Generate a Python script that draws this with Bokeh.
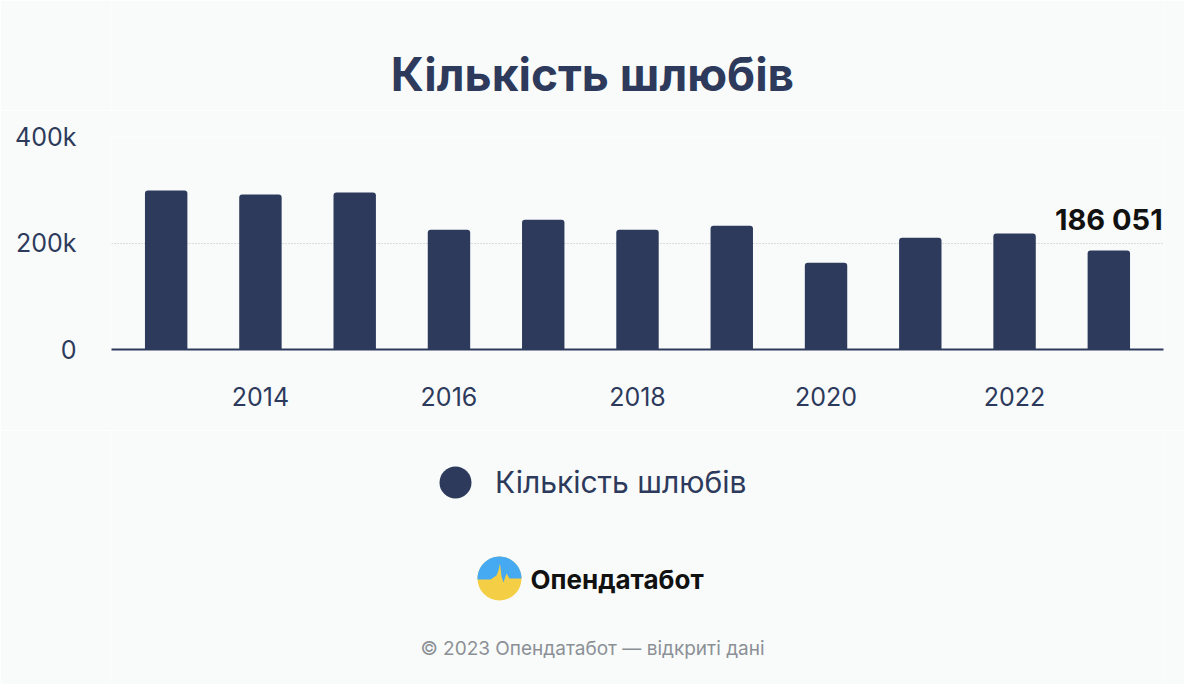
import numpy as np
from bokeh.plotting import figure
from bokeh.models import (ColumnDataSource, Range1d, FixedTicker, Legend, LegendItem)
from bokeh.layouts import column
from bokeh.core.properties import value
from bokeh.embed import file_html
from bokeh.resources import INLINE

years = [2013, 2014, 2015, 2016, 2017, 2018, 2019, 2020, 2021, 2022, 2023]
marriages = [298500, 291000, 295000, 225000, 243500, 225000, 232500, 163000, 210000, 218000, 186051]
x_ticks = [2014, 2016, 2018, 2020, 2022]
y_ticks = [0, 200000, 400000]
y_tick_labels = {0: "0", 200000: "200k", 400000: "400k"}
series_name = "Кількість шлюбів"
title_text = "Кількість шлюбів"
brand = "Опендатабот"
footer = "© 2023 Опендатабот — відкриті дані"

BG = "#f9fbfa"
NAVY = "#2d3a5c"
FONT = "Inter"
W = 1184
LEFT, RIGHT = 111, 21


def blank(h):
    f = figure(width=W, height=h, output_backend="svg", toolbar_location=None,
               x_range=Range1d(LEFT, W - RIGHT), y_range=Range1d(h, 0),
               min_border=0, min_border_left=LEFT, min_border_right=RIGHT,
               min_border_top=0, min_border_bottom=0)
    f.axis.visible = False
    f.grid.visible = False
    f.background_fill_color = BG
    f.border_fill_color = BG
    f.outline_line_color = None
    return f


# ---- title ----
t = blank(110)
t.text(x=[592], y=[73], text=[title_text], text_align="center", text_baseline="middle",
       text_font=value(FONT), text_font_style="bold", text_font_size="46px", text_color=NAVY)

# ---- main chart ----
p = figure(width=W, height=320, output_backend="svg", toolbar_location=None,
           x_range=Range1d(2012.42, 2023.58), y_range=Range1d(0, 400000),
           min_border_left=LEFT, min_border_right=RIGHT, min_border_top=26, min_border_bottom=81)
p.background_fill_color = BG
p.border_fill_color = BG
p.outline_line_color = None

src = ColumnDataSource(dict(x=years, top=marriages))
p.vbar(x="x", top="top", width=0.45, source=src, fill_color=NAVY, line_color=None,
       border_radius=(3, 3, 0, 0))

p.xaxis.ticker = FixedTicker(ticks=x_ticks)
p.xaxis.axis_line_color = NAVY
p.xaxis.axis_line_width = 2
p.xaxis.major_tick_line_color = None
p.xaxis.minor_tick_line_color = None
p.xaxis.major_label_standoff = 31
p.xaxis.major_label_text_font = FONT
p.xaxis.major_label_text_font_size = "25px"
p.xaxis.major_label_text_color = NAVY

p.yaxis.ticker = FixedTicker(ticks=y_ticks)
p.yaxis.major_label_overrides = y_tick_labels
p.yaxis.axis_line_color = None
p.yaxis.major_tick_line_color = None
p.yaxis.minor_tick_line_color = None
p.yaxis.major_label_standoff = 29
p.yaxis.major_label_text_font = FONT
p.yaxis.major_label_text_font_size = "25px"
p.yaxis.major_label_text_color = NAVY

p.xgrid.grid_line_color = None
p.ygrid.ticker = FixedTicker(ticks=y_ticks)
p.ygrid.grid_line_color = "#b9bfbf"
p.ygrid.grid_line_dash = "1 2"
p.ygrid.grid_line_width = 1

last = dict(x=[years[-1]], y=[marriages[-1]],
            t=[f"{marriages[-1]:,}".replace(",", " ")])
p.text(x="x", y="y", text="t", source=ColumnDataSource(last), text_align="center",
       text_baseline="bottom", y_offset=-13, text_font=value(FONT),
       text_font_style="bold", text_font_size="29px", text_color="#111111")

# ---- legend, logo, footer ----
q = blank(254)
dummy = q.scatter(x=[-5000], y=[-5000], marker="circle", size=32, fill_color=NAVY, line_color=None)
leg = Legend(items=[LegendItem(label=series_name, renderers=[dummy])], location=(304, 162),
             glyph_width=80, glyph_height=80, label_standoff=0, padding=0, margin=0,
             background_fill_alpha=0, border_line_color=None,
             label_text_font=FONT, label_text_font_size="30px", label_text_color=NAVY)
q.add_layout(leg, "center")

cx, cy, r = 499, 148, 22
q.circle(x=[cx], y=[cy], radius=r, fill_color="#f4cf45", line_color=None)
th = np.linspace(np.pi, 2 * np.pi, 40)
arc_x = list(cx + r * np.cos(th))
arc_y = list(cy + r * np.sin(th))
bx = [cx + 22, cx + 10, cx + 7, cx + 4, cx + 2, cx + 0.5, cx - 1, cx - 3, cx - 6, cx - 9, cx - 12, cx - 22]
by = [cy + 0, cy + 0, cy - 5, cy + 4, cy - 2, cy - 15, cy - 8, cy - 3, cy - 1, cy + 1, cy + 1, cy + 1]
q.patch(x=arc_x + bx, y=arc_y + by, fill_color="#45aaf2", line_color=None)
q.text(x=[cx + 31], y=[cy + 1], text=[brand], text_align="left", text_baseline="middle",
       text_font=value(FONT), text_font_style="bold", text_font_size="26px", text_color="#111111")
q.text(x=[592], y=[218], text=[footer], text_align="center", text_baseline="middle",
       text_font=value(FONT), text_font_size="19px", text_color="#8b9096")

layout = column(t, p, q, spacing=0)
open("out.html", "w").write(file_html(layout, INLINE))
